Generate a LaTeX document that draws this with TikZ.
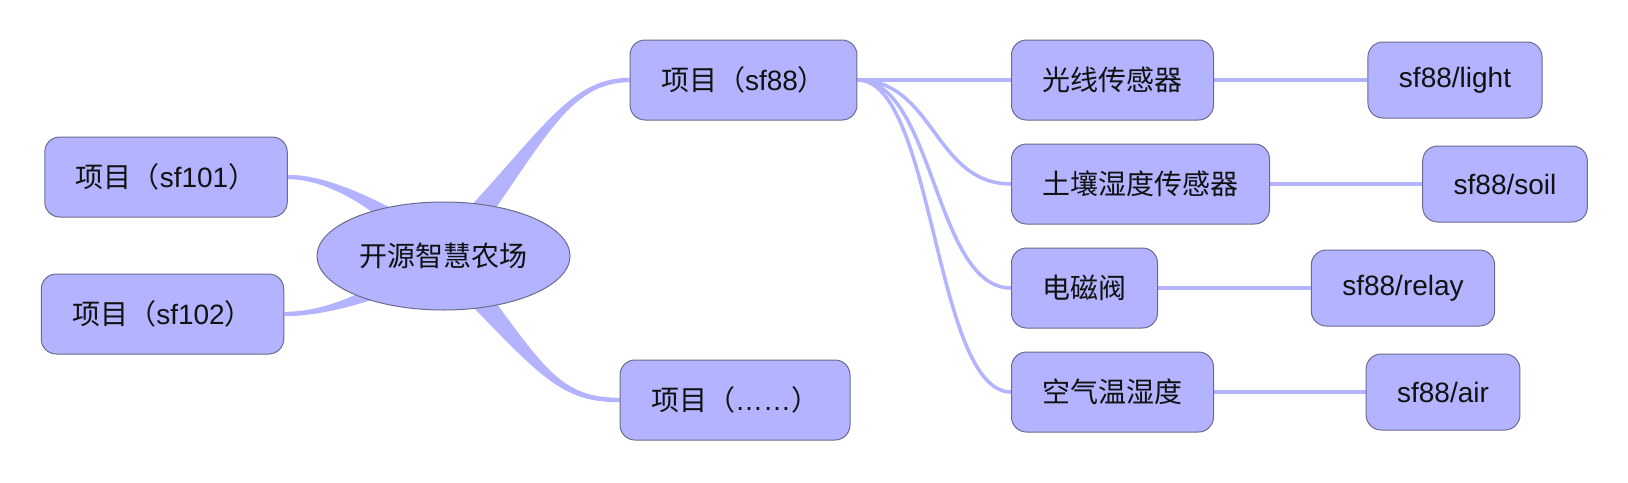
\documentclass[tikz,border=0pt]{standalone}
\usepackage{fontspec}
\setmainfont{Liberation Sans}
\newfontfamily\cjk{Noto Sans CJK SC}
\usepackage{xcolor}
\usepackage{tikz}
\usetikzlibrary{shapes.geometric,backgrounds,calc}
\definecolor{mmFill}{HTML}{B3B3FF}
\definecolor{mmLine}{HTML}{B3B3FF}
\definecolor{mmEdge}{HTML}{6B6B8E}
\definecolor{mmInk}{HTML}{111111}
\tikzset{
  rootnode/.style={ellipse,draw=mmEdge,fill=mmFill,line width=1pt,
    minimum width=253pt,minimum height=108pt,inner sep=0pt,
    font=\fontsize{28pt}{34pt}\selectfont\cjk,text=mmInk},
  prjbox/.style={rectangle,rounded corners=15pt,
    draw=mmEdge,fill=mmFill,line width=1pt,
    minimum height=80pt,inner xsep=31pt,inner ysep=0pt,
    font=\fontsize{28pt}{34pt}\selectfont,text=mmInk},
  devbox/.style={prjbox,font=\fontsize{28pt}{34pt}\selectfont\cjk},
  topicbox/.style={prjbox,minimum height=76pt},
  branch/.style={fill=mmLine},
  link/.style={draw=mmLine,line width=3.5pt},
}

\begin{document}
\begin{tikzpicture}[x=1pt,y=-1pt]
  \useasboundingbox (0,0) rectangle (1628,482);

  % centre topic
  \node[rootnode] (farm) at (443.5,256) {开源智慧农场};

  % projects
  \node[prjbox] (p101) at (166,177) {{\cjk 项目（}sf101{\cjk ）}};
  \node[prjbox] (p102) at (162.5,314) {{\cjk 项目（}sf102{\cjk ）}};
  \node[prjbox] (p88) at (743.5,80) {{\cjk 项目（}sf88{\cjk ）}};
  \node[prjbox] (pmore) at (735,400) {{\cjk 项目（}……{\cjk ）}};

  % devices of sf88
  \node[devbox,anchor=west] (light) at (1011,80) {光线传感器};
  \node[devbox,anchor=west] (soil) at (1011,184) {土壤湿度传感器};
  \node[devbox,anchor=west] (valve) at (1011,288) {电磁阀};
  \node[devbox,anchor=west] (air) at (1011,392) {空气温湿度};

  % topics
  \node[topicbox] (tlight) at (1455,80) {sf88/light};
  \node[topicbox] (tsoil) at (1505,184) {sf88/soil};
  \node[topicbox] (trelay) at (1403,288) {sf88/relay};
  \node[topicbox] (tair) at (1443,392) {sf88/air};

  \begin{scope}[on background layer]
    % tapered branches from the centre topic
    \fill[branch] ($(farm.center)+(-11,-10)$)
      .. controls ($(farm.center)+(93,-114)$) and ($(p88.west)+(-65,-2.5)$) .. ($(p88.west)+(0,-2.2)$)
      -- ($(p88.west)+(0,2.2)$)
      .. controls ($(p88.west)+(-65,2.5)$) and ($(farm.center)+(99,-108)$) .. ($(farm.center)+(11,10)$)
      -- cycle;
    \fill[branch] ($(farm.center)+(11,-10)$)
      .. controls ($(farm.center)+(99,108)$) and ($(pmore.west)+(-65,-2.5)$) .. ($(pmore.west)+(0,-2.2)$)
      -- ($(pmore.west)+(0,2.2)$)
      .. controls ($(pmore.west)+(-65,2.5)$) and ($(farm.center)+(93,114)$) .. ($(farm.center)+(-11,10)$)
      -- cycle;
    \fill[branch] ($(farm.center)+(9.6,-11.5)$)
      .. controls ($(farm.center)+(-56.8,-53.8)$) and ($(p101.east)+(42,-2.2)$) .. ($(p101.east)+(0,-2.2)$)
      -- ($(p101.east)+(0,2.2)$)
      .. controls ($(p101.east)+(42,2.2)$) and ($(farm.center)+(-63.2,-46.2)$) .. ($(farm.center)+(-9.6,11.5)$)
      -- cycle;
    \fill[branch] ($(farm.center)+(-7.9,-12.8)$)
      .. controls ($(farm.center)+(-67.6,35.7)$) and ($(p102.east)+(42,-2.2)$) .. ($(p102.east)+(0,-2.2)$)
      -- ($(p102.east)+(0,2.2)$)
      .. controls ($(p102.east)+(42,2.2)$) and ($(farm.center)+(-62.4,44.3)$) .. ($(farm.center)+(7.9,12.8)$)
      -- cycle;

    % sf88 -> devices
    \draw[link] (p88.east) -- (light.west);
    \draw[link] (p88.east) .. controls +(77,0) and +(-77,0) .. (soil.west);
    \draw[link] (p88.east) .. controls +(77,0) and +(-77,0) .. (valve.west);
    \draw[link] (p88.east) .. controls +(77,0) and +(-77,0) .. (air.west);

    % devices -> topics
    \draw[link] (light.east) -- (tlight.west);
    \draw[link] (soil.east) -- (tsoil.west);
    \draw[link] (valve.east) -- (trelay.west);
    \draw[link] (air.east) -- (tair.west);
  \end{scope}
\end{tikzpicture}
\end{document}
